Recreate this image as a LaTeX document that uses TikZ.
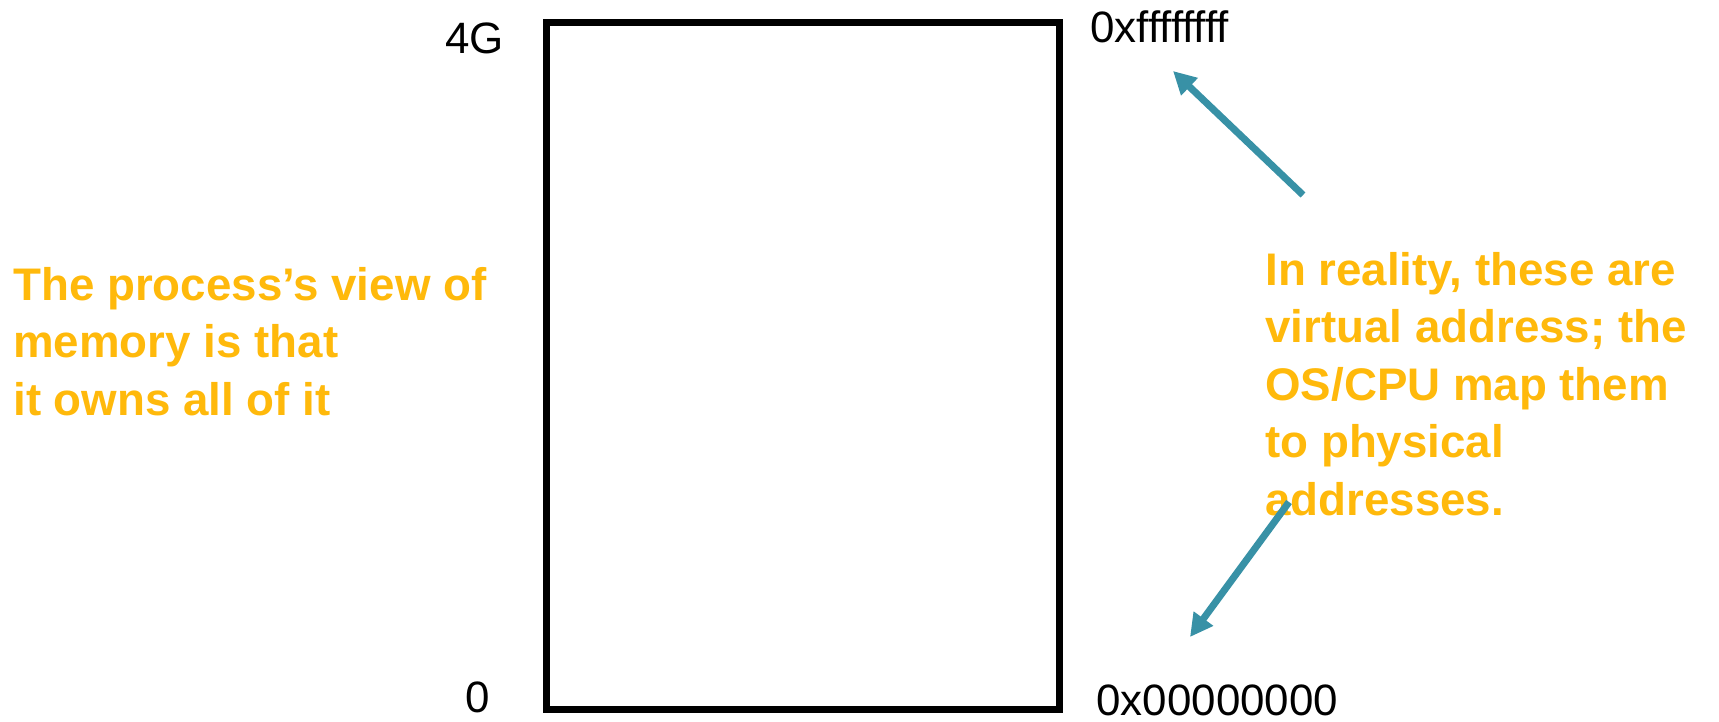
\documentclass[tikz,border=0pt]{standalone}
\usepackage{fontspec}
\setmainfont{Liberation Sans}
\usepackage{xcolor}
\usepackage{tikz}
\usetikzlibrary{arrows.meta,positioning}
\definecolor{ink}{HTML}{000000}
\definecolor{noteorange}{HTML}{FFB90B}
\definecolor{pointerteal}{HTML}{3891A6}
\tikzset{
  memblock/.style={rectangle, draw=ink, line width=4pt, minimum width=10.28cm, minimum height=13.76cm, inner sep=0pt},
  addr/.style={inner sep=0pt, text=ink, font=\fontsize{25pt}{30pt}\selectfont},
  note/.style={inner sep=0pt, align=left, text=noteorange, font=\bfseries\fontsize{26pt}{32.7pt}\selectfont},
  pointer/.style={-{Triangle[length=13pt, width=13pt]}, line width=4pt, draw=pointerteal}
}
\begin{document}
\begin{tikzpicture}[x=0.02cm, y=-0.02cm]
  \useasboundingbox (0,0) rectangle (1719,721);
  \node[memblock] (mem) at (803,366) {};
  \node[addr, anchor=base east] (fourg) at (504,53) {4G};
  \node[addr, anchor=base east] (zero) at (490,712) {0};
  \node[addr, anchor=base west] (highaddr) at (1090,42) {0xffffffff};
  \node[addr, anchor=base west] (lowaddr) at (1096,715) {0x00000000};
  % base of a multi-line note is its last line
  \node[note, anchor=base west] (procview) at (13,415) {The process’s view of\\memory is that\\it owns all of it};
  \node[note, anchor=base west] (reality) at (1265,515) {In reality, these are\\virtual address; the\\OS/CPU map them\\to physical\\addresses.};
  \coordinate (hightail) at (1303,195);
  \coordinate (hightip) at (1173,71);
  \coordinate (lowtail) at (1289,502);
  \coordinate (lowtip) at (1190,637);
  \draw[pointer] (hightail) -- (hightip);
  \draw[pointer] (lowtail) -- (lowtip);
\end{tikzpicture}
\end{document}
